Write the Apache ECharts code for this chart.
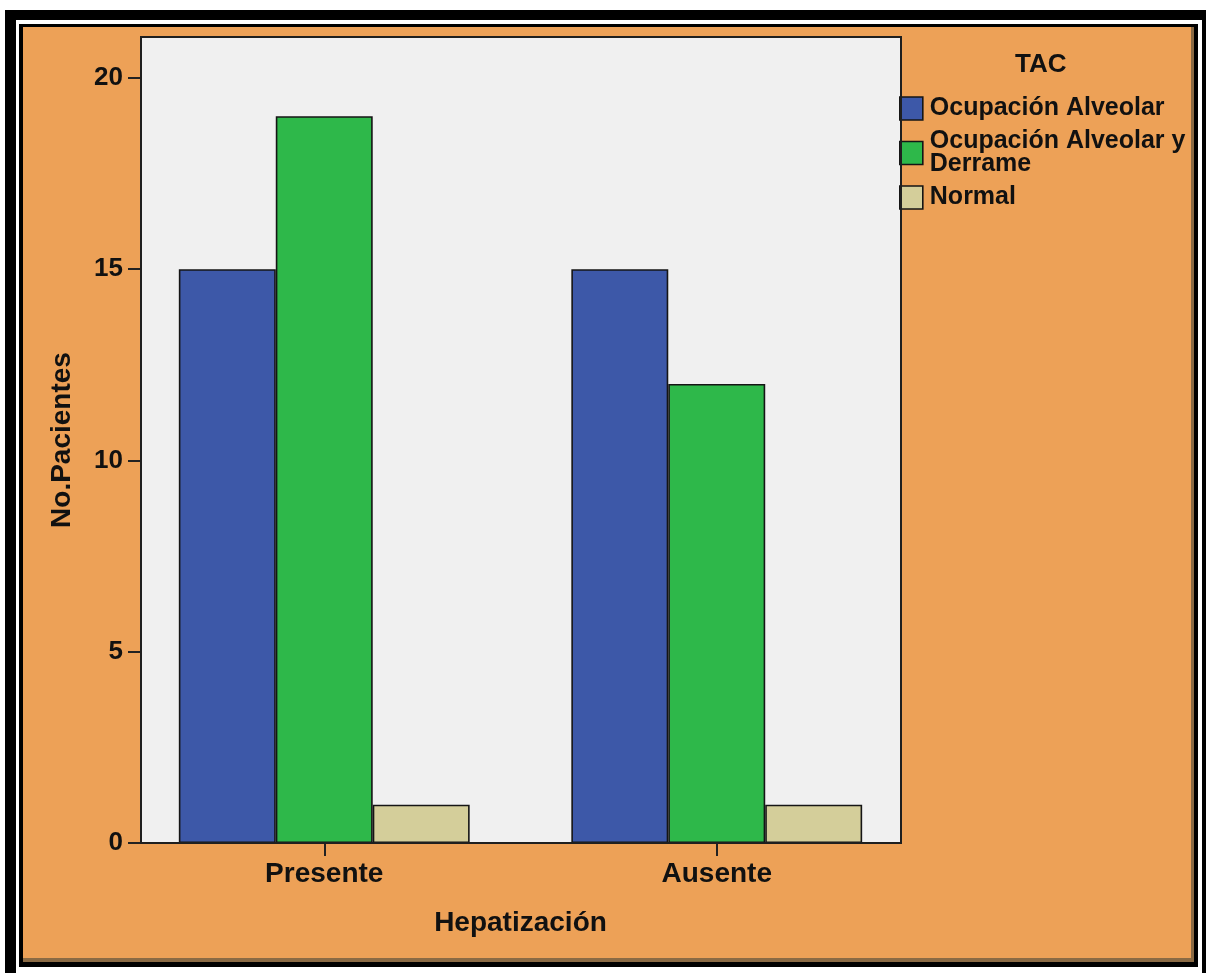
<!DOCTYPE html>
<html>
<head>
<meta charset="utf-8">
<title>TAC por Hepatización</title>
<script src="https://cdn.jsdelivr.net/npm/echarts@6.0.0/dist/echarts.min.js"></script>
<style>
  html, body { margin: 0; padding: 0; background: #ffffff; }
  #chart { width: 1206px; height: 973px; }
</style>
</head>
<body>
<div id="chart"></div>
<script>
// Categories on the x axis (Hepatización)
const categories = ['Presente', 'Ausente'];

// Patient counts per TAC finding
const ocupacionAlveolar = [15, 15];
const ocupacionDerrame = [19, 12];
const normal = [1, 1];

// Series names as shown in the legend
const seriesNames = ['Ocupación Alveolar', 'Ocupación Alveolar y Derrame', 'Normal'];

// Y-axis tick values
const yTicks = [0, 5, 10, 15, 20];

const FONT = '"Liberation Sans", Arial, sans-serif';
const ORANGE = '#EDA157';

const chart = echarts.init(document.getElementById('chart'), null, { renderer: 'canvas' });

function barSeries(name, values, color) {
  return {
    name: name,
    type: 'bar',
    data: values,
    barGap: '0%',
    barCategoryGap: '25.9%',
    itemStyle: { color: color, borderColor: '#151515', borderWidth: 1.6 },
    z: 3
  };
}

const option = {
  backgroundColor: '#ffffff',
  animation: false,
  textStyle: { fontFamily: FONT },
  graphic: [
    // double black frame around the whole figure
    { type: 'rect', z: -20, shape: { x: 5, y: 10, width: 1205, height: 980 }, style: { fill: '#000' }, silent: true },
    { type: 'rect', z: -19, shape: { x: 16, y: 20, width: 1186, height: 980 }, style: { fill: '#fff' }, silent: true },
    { type: 'rect', z: -18, shape: { x: 19, y: 24, width: 1179, height: 943 }, style: { fill: '#000' }, silent: true },
    { type: 'rect', z: -17, shape: { x: 23, y: 27, width: 1171, height: 935 }, style: { fill: '#8a6a44' }, silent: true },
    { type: 'rect', z: -16, shape: { x: 23, y: 27, width: 1168, height: 931 }, style: { fill: ORANGE }, silent: true },
    // plot area background
    { type: 'rect', z: -10, shape: { x: 141, y: 37, width: 760, height: 806 }, style: { fill: '#F0F0F0' }, silent: true },
    // plot area outline
    { type: 'rect', z: 20, shape: { x: 141, y: 37, width: 760, height: 806 },
      style: { fill: 'none', stroke: '#1f1f1f', lineWidth: 2 }, silent: true },
    // legend title
    { type: 'text', z: 20, left: 1015, top: 52,
      style: { text: 'TAC', font: 'bold 26px ' + FONT, fill: '#111' }, silent: true }
  ],
  legend: {
    orient: 'vertical',
    left: 899,
    top: 96,
    padding: 0,
    itemGap: 8,
    itemWidth: 23,
    itemHeight: 23,
    icon: 'rect',
    data: seriesNames,
    formatter: function (name) {
      return name === 'Ocupación Alveolar y Derrame' ? 'Ocupación Alveolar y\nDerrame' : name;
    },
    itemStyle: { borderColor: '#151515', borderWidth: 1.6 },
    textStyle: { fontFamily: FONT, fontWeight: 'bold', fontSize: 25, color: '#111', lineHeight: 23, padding: [0, 0, 0, 2] }
  },
  grid: {
    left: 128,
    top: 37,
    width: 785,
    height: 806,
    containLabel: false
  },
  xAxis: {
    type: 'category',
    data: categories,
    name: 'Hepatización',
    nameLocation: 'middle',
    nameGap: 66,
    nameTextStyle: { fontFamily: FONT, fontWeight: 'bold', fontSize: 28, color: '#111' },
    axisLine: { show: false },
    axisTick: { show: true, alignWithLabel: true, length: 13, lineStyle: { color: '#222', width: 2 } },
    axisLabel: { margin: 17, fontFamily: FONT, fontWeight: 'bold', fontSize: 28, color: '#111' },
    splitLine: { show: false }
  },
  yAxis: {
    type: 'value',
    min: 0,
    max: 21.07,
    offset: -13,
    name: 'No.Pacientes',
    nameLocation: 'middle',
    nameGap: 65,
    nameTextStyle: { fontFamily: FONT, fontWeight: 'bold', fontSize: 28, color: '#111' },
    axisLine: { show: false },
    axisTick: { show: true, length: 13, customValues: yTicks, lineStyle: { color: '#222', width: 2 } },
    axisLabel: { margin: 18, customValues: yTicks, fontFamily: FONT, fontWeight: 'bold', fontSize: 26, color: '#111' },
    splitLine: { show: false }
  },
  series: [
    barSeries(seriesNames[0], ocupacionAlveolar, '#3D58A8'),
    barSeries(seriesNames[1], ocupacionDerrame, '#2EB84A'),
    barSeries(seriesNames[2], normal, '#D4CE9A')
  ]
};

chart.setOption(option);
</script>
</body>
</html>
